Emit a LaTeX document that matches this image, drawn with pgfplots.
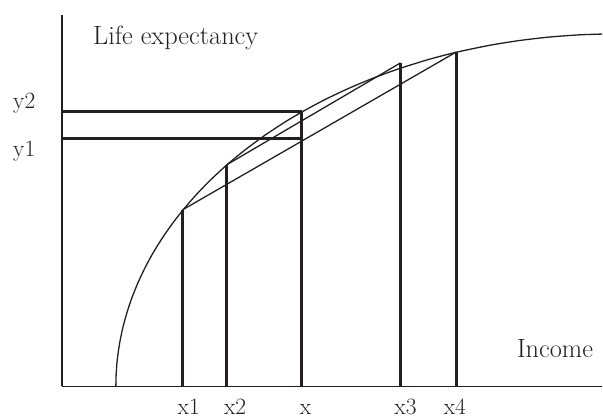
\documentclass[border=0pt]{standalone}
\usepackage{fontspec}
\usepackage{pgfplots}
\pgfplotsset{compat=1.18}
\definecolor{ink}{RGB}{35,31,32}
\begin{document}
\begin{tikzpicture}
\begin{axis}[
  scale only axis, x=1bp, y=1bp,
  xmin=62, xmax=603, ymin=0, ymax=372,
  axis x line=bottom, axis y line=left,
  axis line style={-, line width=1.6bp, ink},
  x axis line style={-}, y axis line style={-},
  xtick=\empty, ytick=\empty,
  clip=false,
  font=\fontsize{23.5}{28}\selectfont,
]
% curve
\addplot[ink, line width=1.3bp, smooth, tension=0.4] coordinates {
(116,0) (116.25,11.2) (117,22.3) (118,31.5) (120,44.6) (123,58.9) (127,73.6)
(132,88.6) (138,103.6) (145,118.5) (153,133.3) (162,147.9) (172,162.3)
(183,176.5) (196,191.5) (210,206.0) (227,221.8) (245,236.6) (265,251.4)
(285,264.6) (302,274.7) (325,287.1) (350,298.9) (375,309.3) (401,318.7)
(430,327.7) (457,334.7) (490,341.6) (520,346.4) (550,349.9) (580,352.1)
(603,352.9)};
% chords
\addplot[ink, line width=1.3bp] coordinates {(183,177) (457,335)};
\addplot[ink, line width=1.3bp] coordinates {(227,222) (401,324)};
% vertical lines
\addplot[ink, line width=3bp] coordinates {(183,0) (183,177)};
\addplot[ink, line width=3bp] coordinates {(227,0) (227,222)};
\addplot[ink, line width=3bp] coordinates {(302,0) (302,276)};
\addplot[ink, line width=3bp] coordinates {(401,0) (401,324)};
\addplot[ink, line width=3bp] coordinates {(457,0) (457,335)};
% horizontal lines
\addplot[ink, line width=3bp] coordinates {(62,275) (302,275)};
\addplot[ink, line width=3bp] coordinates {(62,248) (302,248)};
% labels
\node[ink, anchor=base west, inner sep=0, font=\fontsize{26.5}{30}\selectfont] at (axis cs:93,342) {Life expectancy};
\node[ink, anchor=base east, inner sep=0, font=\fontsize{26.5}{30}\selectfont] at (axis cs:594,29) {Income};
\node[ink, anchor=base west, inner sep=0] at (axis cs:13,278) {y2};
\node[ink, anchor=base west, inner sep=0] at (axis cs:13,230) {y1};
\node[ink, anchor=base, inner sep=0] at (axis cs:189,-28) {x1};
\node[ink, anchor=base, inner sep=0] at (axis cs:235.5,-28) {x2};
\node[ink, anchor=base, inner sep=0] at (axis cs:306,-28) {x};
\node[ink, anchor=base, inner sep=0] at (axis cs:406,-28) {x3};
\node[ink, anchor=base, inner sep=0] at (axis cs:455.5,-28) {x4};
\path (axis cs:0,-32) rectangle (axis cs:603,387);
\end{axis}
\end{tikzpicture}
\end{document}
